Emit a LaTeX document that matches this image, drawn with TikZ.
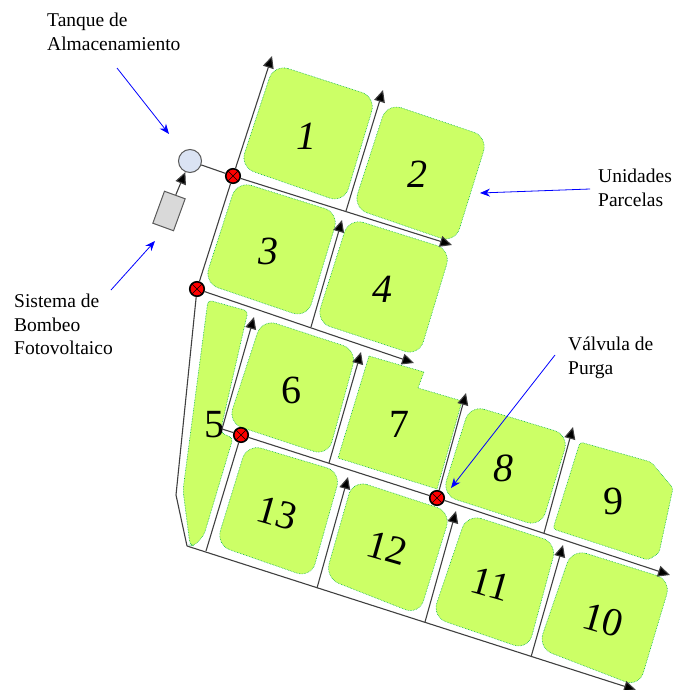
\documentclass[tikz,border=0pt]{standalone}
\usepackage{fontspec}
\setmainfont{Liberation Serif}
\usetikzlibrary{arrows.meta}
\tikzset{
parcela/.style={draw=green!60!cyan!70!black,densely dotted,line width=0.6pt,fill=lime1},
numit/.style={font=\fontsize{40}{40}\selectfont\itshape,inner sep=0pt},
numrec/.style={font=\fontsize{40}{40}\selectfont,inner sep=0pt},
numrot/.style={font=\fontsize{40}{40}\selectfont,inner sep=0pt,rotate=-16},
camino/.style={draw=black!75,line width=1.1pt},
ramal/.style={camino,-{Triangle[length=12pt,width=11pt,fill=black]}},
valvula/.style={circle,draw=black,line width=1.6pt,fill=red,minimum size=14.5pt,inner sep=0pt,
 path picture={\draw[line width=0.6pt] (path picture bounding box.north west) -- (path picture bounding box.south east)
 (path picture bounding box.north east) -- (path picture bounding box.south west);}},
nota/.style={font=\fontsize{19.5}{23.5}\selectfont,align=left,anchor=north west,inner sep=0pt},
flecha/.style={draw=blue,line width=0.8pt,-{Stealth[length=10pt,width=8pt]}}
}
\definecolor{lime1}{RGB}{204,255,102}
\definecolor{azultanque}{RGB}{218,227,243}
\begin{document}
\begin{tikzpicture}[x=1pt,y=-1pt]
\useasboundingbox (0,0) rectangle (673,690);
\def\parcela#1#2#3#4#5{
\draw[parcela,rounded corners=#4] #5 -- cycle;
\node[#3] (p#1) at (#2) {#1};
}
\def\valv#1#2{\node[valvula] (#1) at (#2) {};}
% parcelas
\parcela{1}{306,136}{numit}{15pt}{(274,64) -- (376,97) -- (344,203) -- (240,167)}
\parcela{2}{417,174}{numit}{15pt}{(387,103) -- (488,137) -- (455,243) -- (353,208)}
\parcela{3}{268,251}{numit}{15pt}{(237,181) -- (339,213) -- (307,318) -- (204,283)}
\parcela{4}{382,289}{numit}{15pt}{(349,218) -- (451,250) -- (419,356) -- (316,322)}
\parcela{5}{214,425}{numrec}{4pt}{(208,300) -- (248,311) -- (222,424) -- (221,433) -- (233,438) -- (204,535) -- (194,546) -- (190,545) -- (183,490)}
\parcela{6}{291,390}{numrec}{15pt}{(262,319) -- (357,350) -- (328,456) -- (228,423)}
\parcela{7}{399,424}{numrec}{0pt}{(369,356) -- (424,372) -- (418,388) -- (462,401) -- (437,489) -- (338,458)}
\parcela{8}{503,468}{numit}{15pt}{(470,405) -- (569,435) -- (541,527) -- (442,495)}
\parcela{9}{613,501}{numrec}{3pt}{(580,442) -- (651,462) -- (673,488) -- (659,553) -- (648,560) -- (553,529)}
\parcela{10}{603,620}{numrot}{15pt}{(572,549) -- (671,580) -- (639,687) -- (538,648)}
\parcela{11}{491,584}{numrot}{15pt}{(467,514) -- (557,543) -- (528,650) -- (432,617)}
\parcela{12}{387,548}{numrot}{15pt}{(353,480) -- (451,512) -- (419,615) -- (325,578)}
\parcela{13}{277,513}{numrot}{15pt}{(247,444) -- (341,472) -- (311,578) -- (216,545)}
% valvulas y tanque
\valv{va}{233,176}
\valv{vb}{197,289}
\valv{vc}{241,435}
\valv{vd}{437,498}
\node[circle,draw=black!65,line width=1pt,fill=azultanque,minimum size=23pt,inner sep=0pt] (tanque) at (190,161) {};
\node[draw=black!65,line width=1pt,fill=black!15,minimum width=22pt,minimum height=34pt,rotate=-20,inner sep=0pt] (bomba) at (169,211) {};
% puntos de la red
\coordinate (n1) at (272,56);
\coordinate (n2) at (346,211);
\coordinate (n3) at (383,90);
\coordinate (n4) at (452,245);
\coordinate (n5) at (414,363);
\coordinate (n6) at (311,327);
\coordinate (n7) at (342,220);
\coordinate (n8) at (176,495);
\coordinate (n9) at (187,546);
\coordinate (n10) at (636,690);
\coordinate (n11) at (222,429);
\coordinate (n12) at (254,317);
\coordinate (n13) at (206,551);
\coordinate (n14) at (670,575);
\coordinate (n15) at (329,463);
\coordinate (n16) at (361,352);
\coordinate (n17) at (317,588);
\coordinate (n18) at (348,477);
\coordinate (n19) at (466,393);
\coordinate (n20) at (425,622);
\coordinate (n21) at (456,511);
\coordinate (n22) at (544,533);
\coordinate (n23) at (573,427);
\coordinate (n24) at (531,657);
\coordinate (n25) at (563,545);
% caminos
\draw[ramal] (bomba) -- (tanque);
\draw[camino] (tanque) -- (va);
\draw[camino] (vb) -- (va);
\draw[ramal] (va) -- (n1);
\draw[ramal] (va) -- (n4);
\draw[ramal] (n2) -- (n3);
\draw[ramal] (vb) -- (n5);
\draw[ramal] (n6) -- (n7);
\draw[camino] (vb) -- (n8) -- (n9);
\draw[ramal] (n9) -- (n10);
\draw[camino] (n11) -- (vc);
\draw[ramal] (n11) -- (n12);
\draw[camino] (vc) -- (n13);
\draw[camino] (vc) -- (vd);
\draw[ramal] (vd) -- (n14);
\draw[ramal] (n15) -- (n16);
\draw[ramal] (n17) -- (n18);
\draw[ramal] (vd) -- (n19);
\draw[ramal] (n20) -- (n21);
\draw[ramal] (n22) -- (n23);
\draw[ramal] (n24) -- (n25);
% notas
\node[nota] (tanq) at (47,13) {Tanque de\\Almacenamiento};
\node[nota] (unid) at (598,169) {Unidades\\Parcelas};
\node[nota] (sist) at (14,294) {Sistema de\\Bombeo\\Fotovoltaico};
\node[nota] (purg) at (568,337) {Válvula de\\Purga};
\coordinate (f1a) at (117,68);
\coordinate (f1b) at (169,134);
\coordinate (f2a) at (111,290);
\coordinate (f2b) at (155,241);
\coordinate (f3a) at (590,189);
\coordinate (f3b) at (480,193);
\coordinate (f4a) at (555,355);
\coordinate (f4b) at (451,488);
\draw[flecha] (f1a) -- (f1b);
\draw[flecha] (f2a) -- (f2b);
\draw[flecha] (f3a) -- (f3b);
\draw[flecha] (f4a) -- (f4b);
\end{tikzpicture}
\end{document}
